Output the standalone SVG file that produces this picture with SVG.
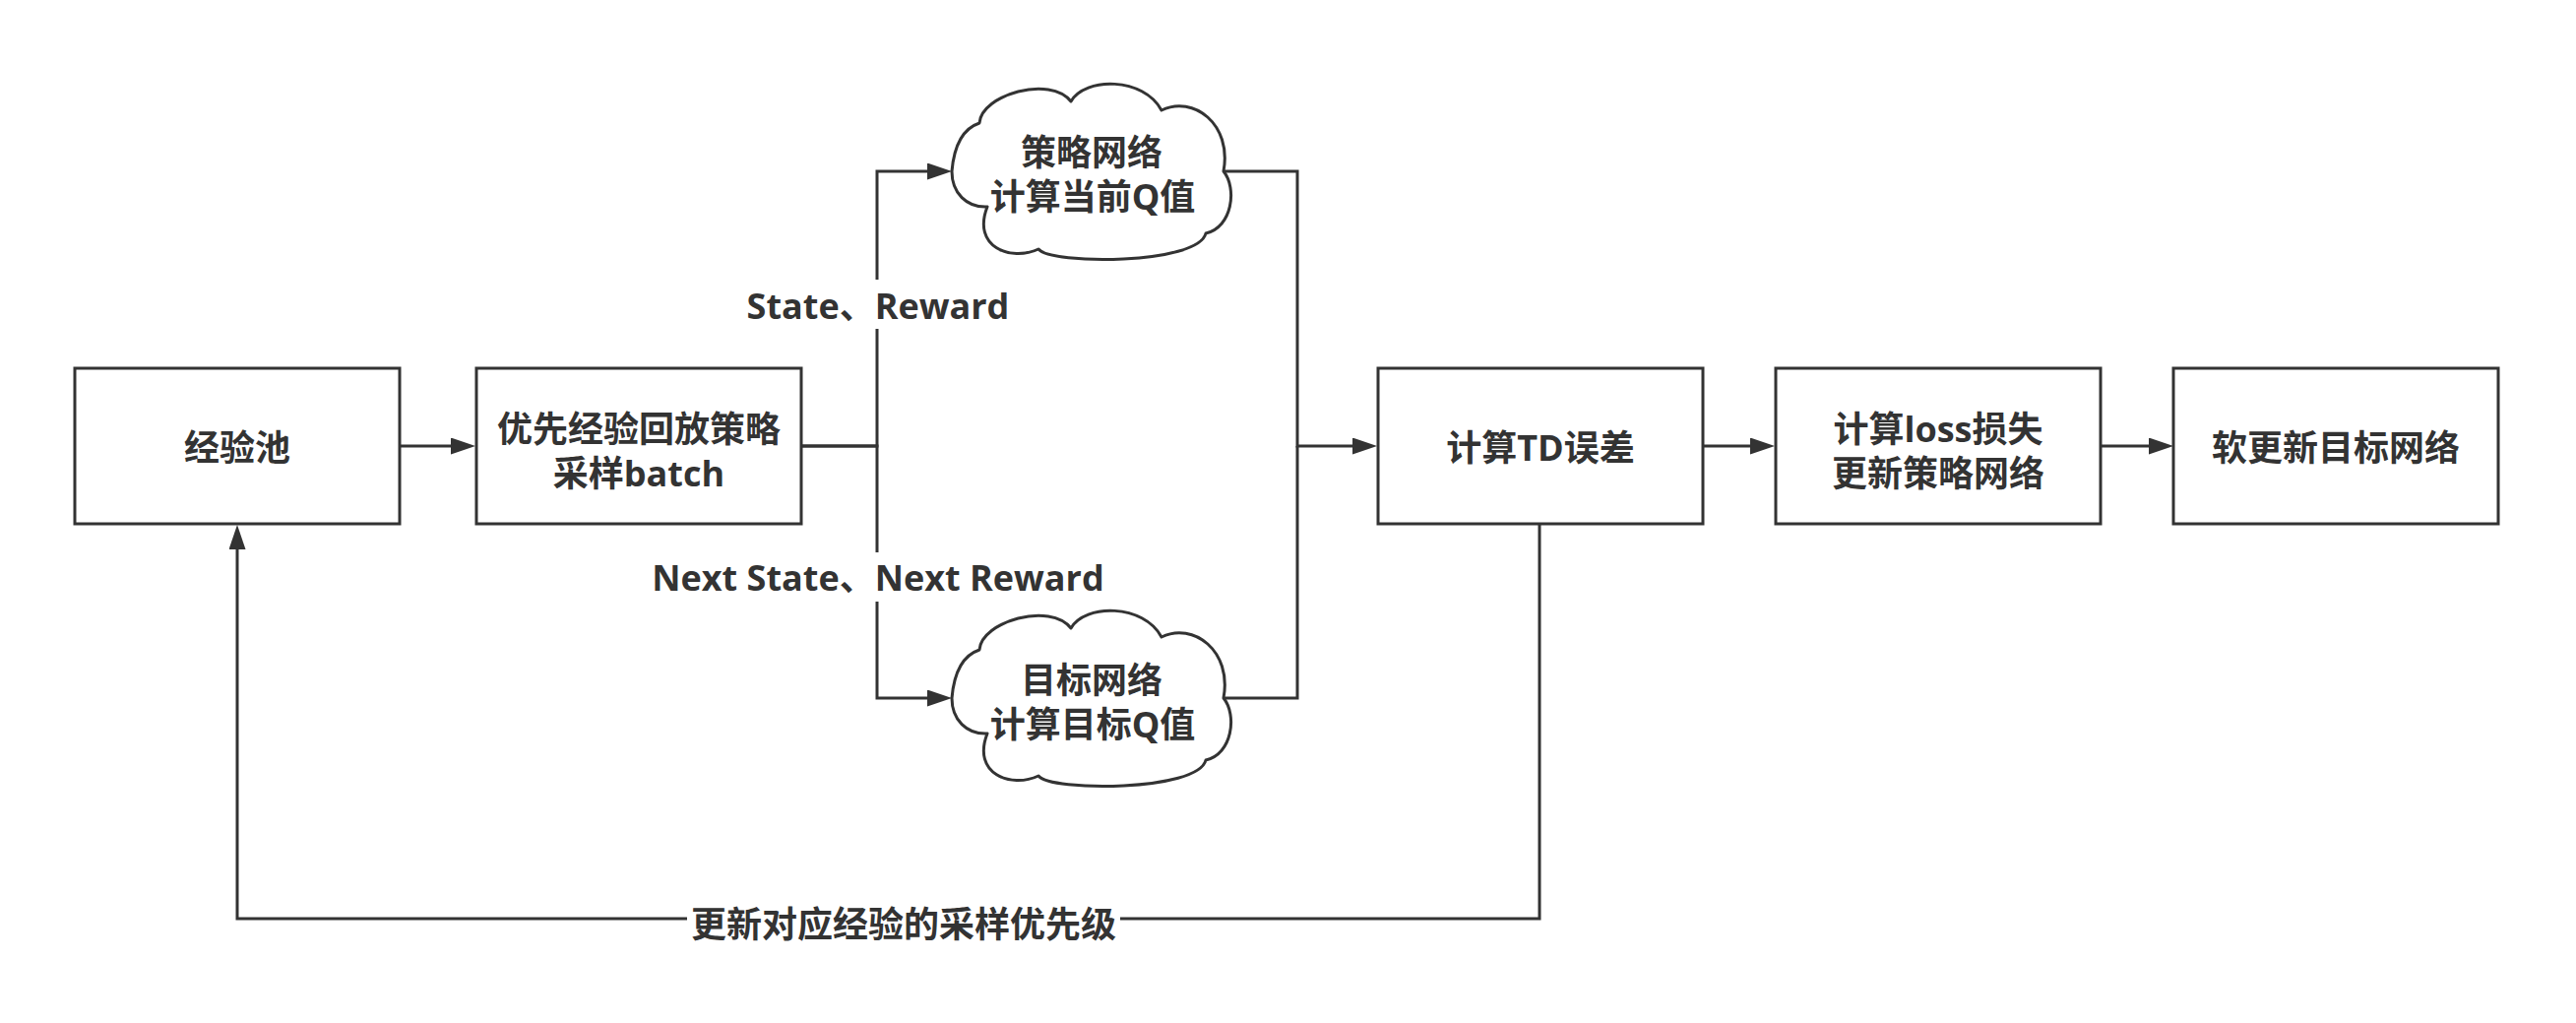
<svg xmlns="http://www.w3.org/2000/svg" xmlns:xlink="http://www.w3.org/1999/xlink" width="2617" height="1039" viewBox="0 0 2617 1039">
<style>
.box{fill:#ffffff;stroke:#333333;stroke-width:3}
.cloud{fill:#ffffff;stroke:#333333;stroke-width:3;stroke-linejoin:round}
.t{font-family:'Open Sans','Noto Sans CJK SC',sans-serif;font-weight:bold;font-size:36px;fill:#333333;text-anchor:middle;dominant-baseline:central}
.edge{fill:none;stroke:#333333;stroke-width:3}
.lbg{fill:#ffffff}
</style>
<defs>
<marker id="arr" markerUnits="userSpaceOnUse" markerWidth="26" markerHeight="18" refX="15" refY="8.5" orient="auto">
<path d="M0,0 L25,8.5 L0,17 z" fill="#333333"/>
</marker>
<path id="cloudshape" d="M0,88 C2,65 10,45 28,39 C30,10 100,-10 121,17 C135,-8 195,-8 213,26 C245,10 285,40 276,88 C290,105 285,145 258,151 C250,183 100,183 88,167 C60,180 20,165 36,124 C15,125 0,110 0,88 Z"/>
</defs>
<rect x="0" y="0" width="2617" height="1039" fill="#ffffff"/>

<g id="connectors">
<path class="edge" d="M407,453 H473" marker-end="url(#arr)"/>
<path class="edge" d="M815,453 H891 V174 H957" marker-end="url(#arr)"/>
<path class="edge" d="M815,453 H891 V709 H957" marker-end="url(#arr)"/>
<path class="edge" d="M1243,174 H1318 V453 H1389" marker-end="url(#arr)"/>
<path class="edge" d="M1243,709 H1318 V453"/>
<path class="edge" d="M1730,453 H1793" marker-end="url(#arr)"/>
<path class="edge" d="M2134,453 H2198" marker-end="url(#arr)"/>
<path class="edge" d="M1564,533 V933 H241 V543" marker-end="url(#arr)"/>
<rect class="lbg" x="760" y="284" width="264" height="50"/>
<text class="t" x="892" y="310">State、Reward</text>
<rect class="lbg" x="662" y="561" width="460" height="50"/>
<text class="t" x="892" y="586">Next State、Next Reward</text>
<rect class="lbg" x="698" y="918" width="440" height="40"/>
<text class="t" x="918" y="938">更新对应经验的采样优先级</text>
</g>

<g id="node-pool">
<rect class="box" x="76" y="374" width="330" height="158"/>
<text class="t" x="241" y="454">经验池</text>
</g>
<g id="node-sample">
<rect class="box" x="484" y="374" width="330" height="158"/>
<text class="t" y="435"><tspan x="649">优先经验回放策略</tspan><tspan x="649" dy="45">采样batch</tspan></text>
</g>
<g id="node-policy">
<use xlink:href="#cloudshape" href="#cloudshape" class="cloud" transform="translate(967,86)"/>
<text class="t" y="154"><tspan x="1109">策略网络</tspan><tspan x="1110" dy="45">计算当前Q值</tspan></text>
</g>
<g id="node-target">
<use xlink:href="#cloudshape" href="#cloudshape" class="cloud" transform="translate(967,621)"/>
<text class="t" y="690"><tspan x="1109">目标网络</tspan><tspan x="1110" dy="45">计算目标Q值</tspan></text>
</g>
<g id="node-td">
<rect class="box" x="1400" y="374" width="330" height="158"/>
<text class="t" x="1565" y="454">计算TD误差</text>
</g>
<g id="node-loss">
<rect class="box" x="1804" y="374" width="330" height="158"/>
<text class="t" y="435"><tspan x="1969">计算loss损失</tspan><tspan x="1969" dy="45">更新策略网络</tspan></text>
</g>
<g id="node-soft">
<rect class="box" x="2208" y="374" width="330" height="158"/>
<text class="t" x="2373" y="454">软更新目标网络</text>
</g>
</svg>
